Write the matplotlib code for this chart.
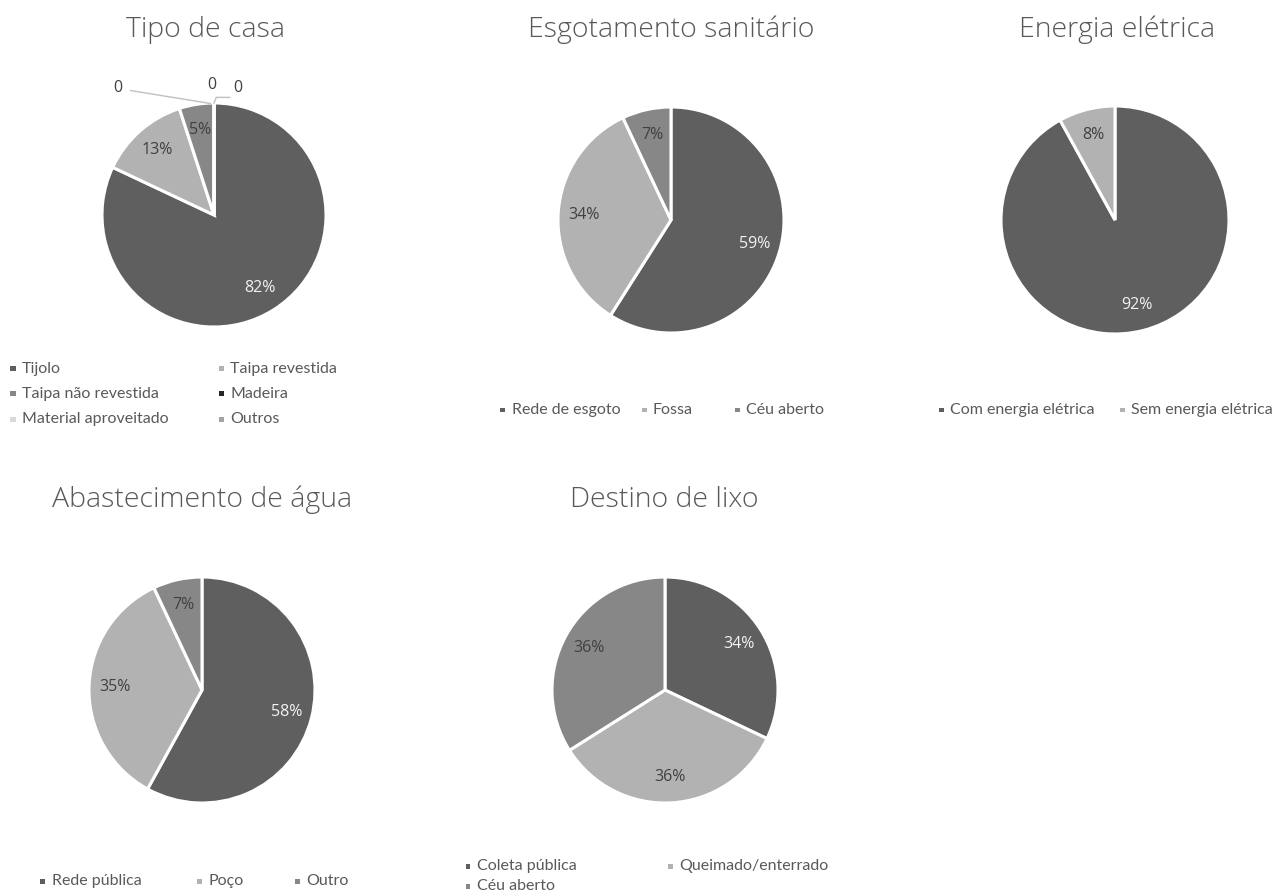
import matplotlib
matplotlib.use("Agg")
import matplotlib.pyplot as plt
from matplotlib.patches import Rectangle
import numpy as np

W, H = 1284, 896

# ---- data -------------------------------------------------------------
casa_labels = ["Tijolo", "Taipa revestida", "Taipa não revestida",
               "Madeira", "Material aproveitado", "Outros"]
casa_values = [82, 13, 5, 0, 0, 0]

esgoto_labels = ["Rede de esgoto", "Fossa", "Céu aberto"]
esgoto_values = [59, 34, 7]

energia_labels = ["Com energia elétrica", "Sem energia elétrica"]
energia_values = [92, 8]

agua_labels = ["Rede pública", "Poço", "Outro"]
agua_values = [58, 35, 7]

lixo_labels = ["Coleta pública", "Queimado/enterrado", "Céu aberto"]
lixo_values = [34, 36, 36]

# ---- style -----------------------------------------------------------
DARK = "#5f5f5f"
LIGHT = "#b2b2b2"
MID = "#878787"
casa_colors = [DARK, LIGHT, MID, "#262626", "#d9d9d9", "#a3a3a3"]
three_colors = [DARK, LIGHT, MID]
TEXT = "#595959"
TITLE_FONT = ["Open Sans", "DejaVu Sans"]
LEGEND_FONT = ["Lato", "DejaVu Sans"]
PCT_SIZE = 11.5

fig = plt.figure(figsize=(W / 100, H / 100), dpi=100)
fig.patch.set_facecolor("white")


def fx(x):
    return x / W


def fy(y):
    return 1 - y / H


def draw_pie(cx, cy, r, values, colors, title, title_xy, pct_dist=0.77):
    ax = fig.add_axes([fx(cx - r), fy(cy + r), 2 * r / W, 2 * r / H])
    ax.axis("off")
    ax.pie(values, colors=colors, radius=1, startangle=90, counterclock=False,
           wedgeprops=dict(edgecolor="white", linewidth=2.2))
    ax.set_xlim(-1, 1)
    ax.set_ylim(-1, 1)
    total = float(sum(values))
    cum = 0.0
    for v, c in zip(values, colors):
        if v > 0:
            mid = np.deg2rad(90 - 360 * (cum + v / 2) / total)
            tc = "#f2f2f2" if c == DARK else "#404040"
            ax.text(pct_dist * np.cos(mid), pct_dist * np.sin(mid), f"{v}%",
                    ha="center", va="center", fontsize=PCT_SIZE, color=tc,
                    family=TITLE_FONT)
        cum += v
    fig.text(fx(title_xy[0]), fy(title_xy[1]), title, ha="center", va="center",
             fontsize=20.5, color=TEXT, family=TITLE_FONT, fontweight="light")
    return ax


def draw_legend(entries):
    for label, color, x, y in entries:
        fig.patches.append(Rectangle((fx(x - 2.5), fy(y + 2.5)), 5 / W, 5 / H,
                                     transform=fig.transFigure, facecolor=color,
                                     edgecolor="none"))
        fig.text(fx(x + 9), fy(y), label, ha="left", va="center",
                 fontsize=11.5, color=TEXT, family=LEGEND_FONT)


# Tipo de casa
ax = draw_pie(214, 215, 112, casa_values, casa_colors, "Tipo de casa", (205, 30))
# zero-valued categories sit at the top of the pie, labelled with leaders
ax.annotate("0", xy=(-0.03, 0.995), xytext=(-0.86, 1.13), ha="center", va="center",
            fontsize=PCT_SIZE, color="#404040", family=TITLE_FONT,
            arrowprops=dict(arrowstyle="-", color="#bfbfbf", lw=1.0,
                            shrinkA=4, shrinkB=0), annotation_clip=False)
ax.text(-0.02, 1.16, "0", ha="center", va="center", fontsize=PCT_SIZE,
        color="#404040", family=TITLE_FONT, clip_on=False)
ax.plot([0.0, 0.02, 0.14], [1.0, 1.05, 1.05], color="#bfbfbf", lw=1.0,
        clip_on=False)
ax.text(0.21, 1.13, "0", ha="center", va="center", fontsize=PCT_SIZE,
        color="#404040", family=TITLE_FONT, clip_on=False)

draw_legend([
    (casa_labels[0], casa_colors[0], 13, 369),
    (casa_labels[1], casa_colors[1], 221, 369),
    (casa_labels[2], casa_colors[2], 13, 394),
    (casa_labels[3], casa_colors[3], 221, 394),
    (casa_labels[4], casa_colors[4], 13, 419),
    (casa_labels[5], casa_colors[5], 221, 419),
])

# Esgotamento sanitário
draw_pie(671, 220, 113, esgoto_values, three_colors, "Esgotamento sanitário", (671, 30))
draw_legend([
    (esgoto_labels[0], three_colors[0], 503, 410),
    (esgoto_labels[1], three_colors[1], 644, 410),
    (esgoto_labels[2], three_colors[2], 737, 410),
])

# Energia elétrica
draw_pie(1115, 220, 114, energia_values, [DARK, LIGHT], "Energia elétrica", (1117, 30))
draw_legend([
    (energia_labels[0], DARK, 941, 410),
    (energia_labels[1], LIGHT, 1122, 410),
])

# Abastecimento de água
draw_pie(202, 690, 113, agua_values, three_colors, "Abastecimento de água", (202, 500))
draw_legend([
    (agua_labels[0], three_colors[0], 43, 881),
    (agua_labels[1], three_colors[1], 199, 881),
    (agua_labels[2], three_colors[2], 297, 881),
])

# Destino de lixo
draw_pie(665, 690, 113, lixo_values, three_colors, "Destino de lixo", (664, 500))
draw_legend([
    (lixo_labels[0], three_colors[0], 468, 866),
    (lixo_labels[1], three_colors[1], 670, 866),
    (lixo_labels[2], three_colors[2], 468, 886),
])

fig.savefig("out.png", dpi=100, facecolor="white")
